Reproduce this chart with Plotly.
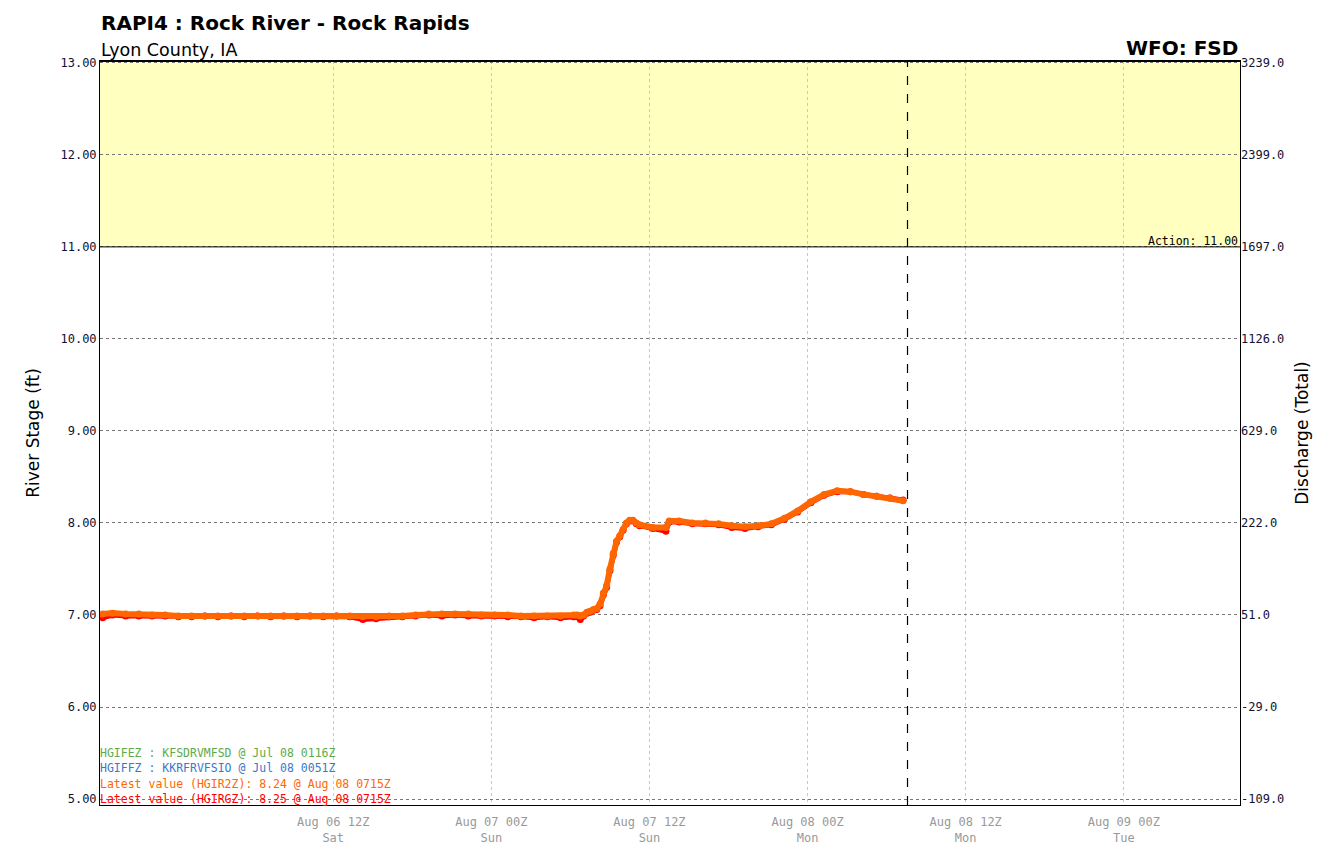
import plotly.graph_objects as go

# ---- data ----
times = [
    "2022-08-05 18:30", "2022-08-05 19:15", "2022-08-05 20:15", "2022-08-05 21:15", "2022-08-05 22:15",
    "2022-08-05 23:15", "2022-08-06 00:15", "2022-08-06 01:15", "2022-08-06 02:15", "2022-08-06 03:15",
    "2022-08-06 04:15", "2022-08-06 05:15", "2022-08-06 06:15", "2022-08-06 07:15", "2022-08-06 08:15",
    "2022-08-06 09:15", "2022-08-06 10:15", "2022-08-06 11:15", "2022-08-06 12:15", "2022-08-06 13:15",
    "2022-08-06 14:15", "2022-08-06 15:15", "2022-08-06 16:15", "2022-08-06 17:15", "2022-08-06 18:15",
    "2022-08-06 19:15", "2022-08-06 20:15", "2022-08-06 21:15", "2022-08-06 22:15", "2022-08-06 23:15",
    "2022-08-07 00:15", "2022-08-07 01:15", "2022-08-07 02:15", "2022-08-07 03:15", "2022-08-07 04:15",
    "2022-08-07 05:15", "2022-08-07 06:15", "2022-08-07 06:30", "2022-08-07 06:45", "2022-08-07 07:00",
    "2022-08-07 07:15", "2022-08-07 07:30", "2022-08-07 07:45", "2022-08-07 08:00", "2022-08-07 08:15",
    "2022-08-07 08:30", "2022-08-07 08:45", "2022-08-07 09:00", "2022-08-07 09:15", "2022-08-07 09:30",
    "2022-08-07 09:45", "2022-08-07 10:00", "2022-08-07 10:15", "2022-08-07 10:30", "2022-08-07 10:45",
    "2022-08-07 11:00", "2022-08-07 11:15", "2022-08-07 12:15", "2022-08-07 13:15", "2022-08-07 13:30",
    "2022-08-07 14:15", "2022-08-07 15:15", "2022-08-07 16:15", "2022-08-07 17:15", "2022-08-07 18:15",
    "2022-08-07 19:15", "2022-08-07 20:15", "2022-08-07 21:15", "2022-08-07 22:15", "2022-08-07 23:15",
    "2022-08-08 00:15", "2022-08-08 01:15", "2022-08-08 02:15", "2022-08-08 03:15", "2022-08-08 04:15",
    "2022-08-08 05:15", "2022-08-08 06:15", "2022-08-08 07:15",
]

stage_hgirzz = [
    7.01, 7.02, 7.01, 7.01, 7.00,
    7.00, 6.99, 6.99, 6.99, 6.99,
    6.99, 6.99, 6.99, 6.99, 6.99,
    6.99, 6.99, 6.99, 6.99, 6.99,
    6.98, 6.98, 6.99, 6.99, 7.00,
    7.01, 7.01, 7.01, 7.01, 7.00,
    7.00, 7.00, 6.99, 6.99, 6.99,
    6.99, 7.00, 7.00, 6.99, 7.00,
    7.03, 7.04, 7.06, 7.07, 7.12,
    7.24, 7.32, 7.50, 7.67, 7.80,
    7.86, 7.93, 8.00, 8.03, 8.03,
    8.00, 7.98, 7.95, 7.95, 8.02,
    8.02, 8.00, 8.00, 7.99, 7.97,
    7.96, 7.97, 7.99, 8.05, 8.13,
    8.23, 8.31, 8.35, 8.34, 8.31,
    8.29, 8.27, 8.24,
]

stage_hgirgz = [
    6.97, 7.00, 6.99, 6.99, 6.99,
    6.99, 6.98, 6.98, 6.99, 6.98,
    6.99, 6.98, 6.99, 6.98, 6.99,
    6.98, 6.99, 6.98, 6.99, 6.98,
    6.95, 6.96, 6.98, 6.98, 6.99,
    7.00, 6.99, 7.00, 6.99, 6.99,
    6.99, 6.98, 6.98, 6.97, 6.98,
    6.97, 6.98, 6.98, 6.95, 6.99,
    7.02, 7.03, 7.05, 7.06, 7.10,
    7.22, 7.30, 7.48, 7.65, 7.79,
    7.85, 7.92, 7.99, 8.02, 8.02,
    7.99, 7.97, 7.94, 7.91, 8.01,
    8.01, 7.99, 7.99, 7.98, 7.95,
    7.94, 7.96, 7.98, 8.04, 8.12,
    8.22, 8.30, 8.34, 8.34, 8.31,
    8.29, 8.27, 8.25,
]

stage_ticks = [5.0, 6.0, 7.0, 8.0, 9.0, 10.0, 11.0, 12.0, 13.0]
stage_labels = ["5.00", "6.00", "7.00", "8.00", "9.00", "10.00", "11.00", "12.00", "13.00"]
discharge_labels = ["-109.0", "-29.0", "51.0", "222.0", "629.0", "1126.0", "1697.0", "2399.0", "3239.0"]

x_ticks = ["2022-08-06 12:00", "2022-08-07 00:00", "2022-08-07 12:00",
           "2022-08-08 00:00", "2022-08-08 12:00", "2022-08-09 00:00"]
x_tick_labels = ["Aug 06 12Z<br>Sat", "Aug 07 00Z<br>Sun", "Aug 07 12Z<br>Sun",
                 "Aug 08 00Z<br>Mon", "Aug 08 12Z<br>Mon", "Aug 09 00Z<br>Tue"]

action_stage = 11.0
now_time = "2022-08-08 07:35"
x_range = ["2022-08-05 18:18", "2022-08-09 08:49"]
y_range = [4.935, 13.02]

legend_lines = [
    ("HGIFEZ : KFSDRVMFSD @ Jul 08 0116Z", "#5cab4a"),
    ("HGIFFZ : KKRFRVFSIO @ Jul 08 0051Z", "#3a78c9"),
    ("Latest value (HGIR2Z): 8.24 @ Aug 08 0715Z", "#ff6600"),
    ("Latest value (HGIRGZ): 8.25 @ Aug 08 0715Z", "#ff0000"),
]

MONO = "DejaVu Sans Mono"
SANS = "DejaVu Sans"

fig = go.Figure()

# red series (underneath)
fig.add_trace(go.Scatter(
    x=times, y=stage_hgirgz, mode="lines+markers",
    line=dict(color="#ff0000", width=5), marker=dict(color="#ff0000", size=7),
    showlegend=False, hoverinfo="skip"))
# orange series
fig.add_trace(go.Scatter(
    x=times, y=stage_hgirzz, mode="lines+markers",
    line=dict(color="#ff6600", width=6), marker=dict(color="#ff6600", size=7),
    showlegend=False, hoverinfo="skip"))
# invisible trace for the right axis
fig.add_trace(go.Scatter(
    x=[times[0]], y=[stage_hgirzz[0]], yaxis="y2", mode="markers",
    marker=dict(opacity=0), showlegend=False, hoverinfo="skip"))

# action band
fig.add_shape(type="rect", xref="paper", yref="y", x0=0, x1=1, y0=action_stage, y1=y_range[1],
              fillcolor="#ffffc0", line=dict(width=0), layer="below")
fig.add_shape(type="line", xref="paper", yref="y", x0=0, x1=1, y0=action_stage, y1=action_stage,
              line=dict(color="black", width=1))
fig.add_annotation(xref="paper", yref="y", x=1, y=action_stage, text="Action: 11.00",
                   showarrow=False, xanchor="right", yanchor="bottom", yshift=-3,
                   font=dict(family=MONO, size=11.5, color="black"))
# top border emphasis
fig.add_shape(type="line", xref="paper", yref="paper", x0=0, x1=1, y0=1, y1=1,
              line=dict(color="black", width=2))

# now line
fig.add_shape(type="line", xref="x", yref="paper", x0=now_time, x1=now_time, y0=0, y1=1,
              line=dict(color="black", width=1.2, dash="dash"))

# legend-like text lines
for i, (txt, col) in enumerate(legend_lines):
    fig.add_annotation(xref="paper", yref="paper", x=0, y=0, xanchor="left", yanchor="bottom",
                       xshift=-2, yshift=43 - i * 15.4, text=txt, showarrow=False,
                       font=dict(family=MONO, size=11.5, color=col))

# titles
fig.add_annotation(xref="paper", yref="paper", x=0, y=1, xanchor="left", yanchor="bottom",
                   xshift=-1, yshift=24, text="<b>RAPI4 : Rock River - Rock Rapids</b>",
                   showarrow=False, font=dict(family=SANS, size=20, color="black"))
fig.add_annotation(xref="paper", yref="paper", x=0, y=1, xanchor="left", yanchor="bottom",
                   xshift=-1, yshift=-1, text="Lyon County, IA",
                   showarrow=False, font=dict(family=SANS, size=17.5, color="black"))
fig.add_annotation(xref="paper", yref="paper", x=1, y=1, xanchor="right", yanchor="bottom",
                   xshift=0, yshift=-1, text="<b>WFO: FSD</b>",
                   showarrow=False, font=dict(family=SANS, size=20, color="black"))

fig.update_layout(
    width=1323, height=850,
    margin=dict(l=92, r=91, t=53, b=53),
    paper_bgcolor="white", plot_bgcolor="white",
    xaxis=dict(
        type="date", range=x_range, tickvals=x_ticks, ticktext=x_tick_labels,
        tickfont=dict(family=MONO, size=12, color="#999999"),
        showgrid=True, gridcolor="#c8c8c8", griddash="dot", gridwidth=1,
        showline=True, linecolor="black", linewidth=1, mirror=True,
        zeroline=False, ticks="", ticklabelstandoff=6,
    ),
    yaxis=dict(
        range=y_range, tickvals=stage_ticks, ticktext=stage_labels,
        tickfont=dict(family=MONO, size=12, color="#111133"),
        showgrid=True, gridcolor="#777777", griddash="dot", gridwidth=1,
        showline=True, linecolor="black", linewidth=1, mirror=True,
        zeroline=False, ticks="",
        title=dict(text="River Stage (ft)", font=dict(family=SANS, size=17, color="black"), standoff=16),
    ),
    yaxis2=dict(
        range=y_range, overlaying="y", side="right", tickvals=stage_ticks, ticktext=discharge_labels,
        tickfont=dict(family=MONO, size=12, color="#111133"),
        showgrid=False, zeroline=False, ticks="",
        title=dict(text="Discharge (Total)", font=dict(family=SANS, size=17, color="black"), standoff=12),
    ),
)

fig.write_html("out.html")
